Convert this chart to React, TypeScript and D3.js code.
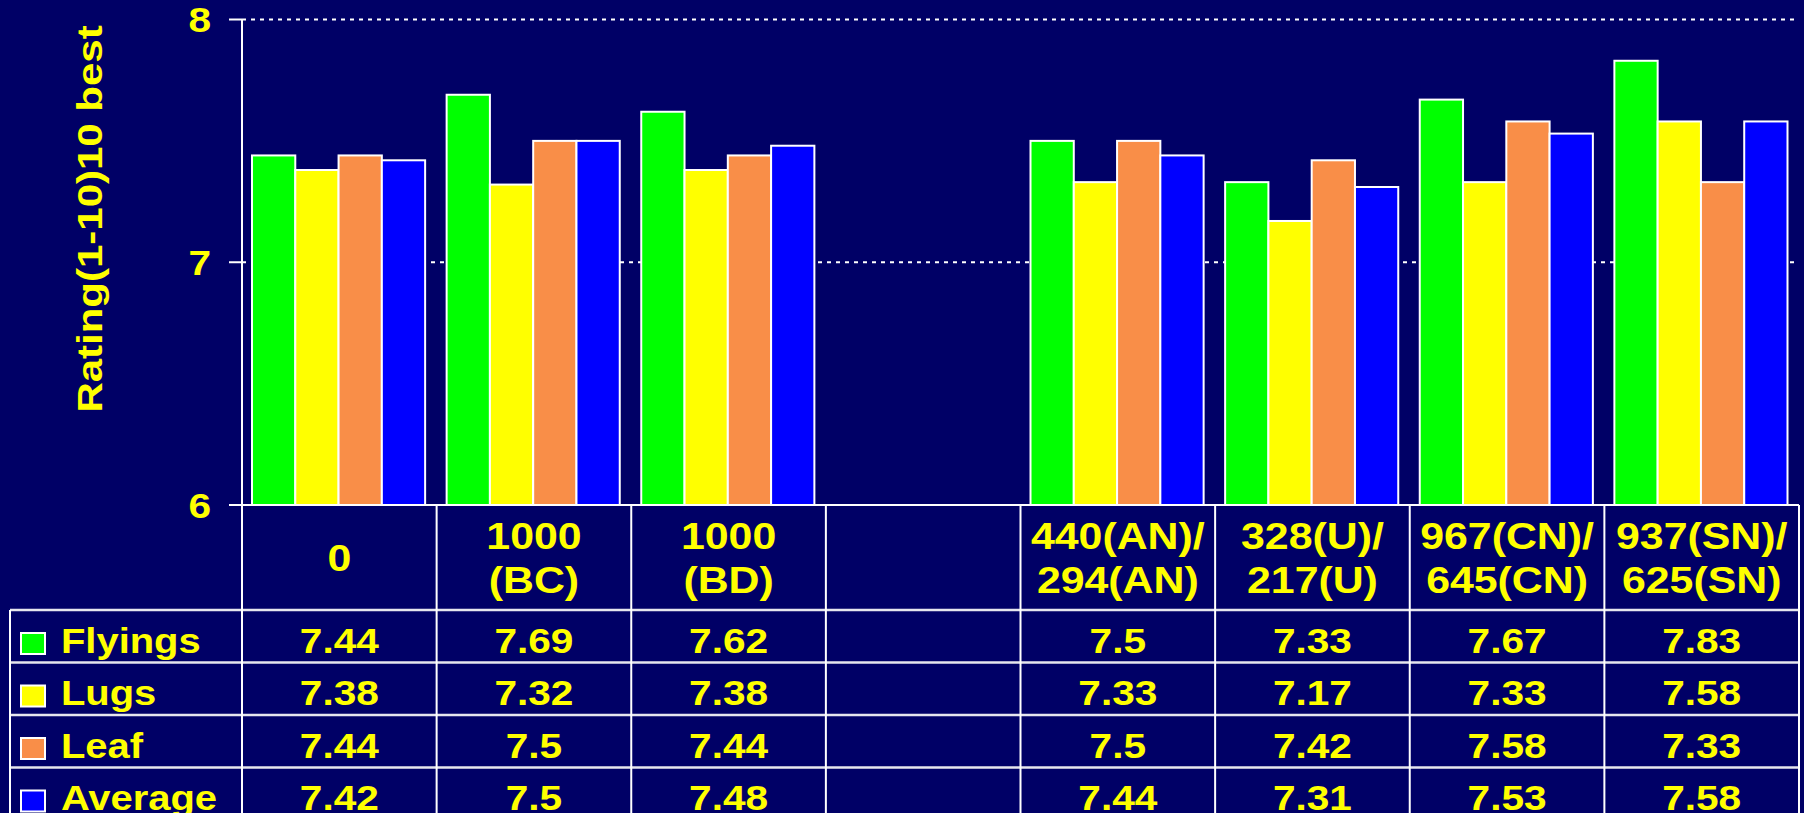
import React from "react";
import * as d3 from "d3";

// ---- data ----
const categories = [
  "0",
  "1000\n(BC)",
  "1000\n(BD)",
  "",
  "440(AN)/\n294(AN)",
  "328(U)/\n217(U)",
  "967(CN)/\n645(CN)",
  "937(SN)/\n625(SN)",
];
const seriesNames = ["Flyings", "Lugs", "Leaf", "Average"];
const flyings = [7.44, 7.69, 7.62, null, 7.5, 7.33, 7.67, 7.83];
const lugs = [7.38, 7.32, 7.38, null, 7.33, 7.17, 7.33, 7.58];
const leaf = [7.44, 7.5, 7.44, null, 7.5, 7.42, 7.58, 7.33];
const average = [7.42, 7.5, 7.48, null, 7.44, 7.31, 7.53, 7.58];
const yTicks = [6, 7, 8];
const yTitle = "Rating(1-10)10 best";
const seriesColors = ["#00FF00", "#FFFF00", "#F98E48", "#0000FF"];

const seriesValues = [flyings, lugs, leaf, average];

// ---- layout ----
const W = 1804;
const H = 813;
const BG = "#000066";
const TXT = "#FFFF00";
const FONT = "'Liberation Sans', Arial, Helvetica, sans-serif";
const SX = 1.16;

const plotLeft = 242;
const plotRight = 1799;
const plotTop = 19.5;
const plotBottom = 505;
const headerBottom = 610;
const rowH = 52.5;
const tableLeft = 10;
const tableBottom = 830;

export default function App() {
  const idx = d3.range(categories.length);
  const x = d3.scaleBand<number>().domain(idx).range([plotLeft, plotRight]).padding(0);
  const bw = x.bandwidth();
  const xi = d3.scaleBand<string>().domain(seriesNames).range([10, bw - 11.5]).padding(0);
  const y = d3.scaleLinear().domain([6, 8]).range([plotBottom, plotTop]);

  const textStyle = { fontFamily: FONT, fontWeight: 700 as const };

  const bars: React.ReactNode[] = [];
  seriesValues.forEach((vals, si) => {
    vals.forEach((v, ci) => {
      if (v == null) return;
      const bx = (x(ci) as number) + (xi(seriesNames[si]) as number);
      const by = y(v);
      bars.push(
        <rect
          key={`b-${si}-${ci}`}
          x={bx}
          y={by}
          width={xi.bandwidth()}
          height={y(6) - by}
          fill={seriesColors[si]}
          stroke="#FFFFFF"
          strokeWidth={2}
        />
      );
    });
  });

  const rowTops = seriesNames.map((_, i) => headerBottom + i * rowH);

  return (
    <svg
      width={W}
      height={H}
      style={{ position: "absolute", left: 0, top: 0, display: "block" }}
    >
      <rect x={0} y={0} width={W} height={H} fill={BG} />

      {/* gridlines */}
      {yTicks
        .filter((t) => t !== 6)
        .map((t) => (
          <line
            key={`g-${t}`}
            x1={plotLeft}
            x2={plotRight}
            y1={y(t)}
            y2={y(t)}
            stroke="#FFFFFF"
            strokeWidth={2}
            strokeDasharray="4,5"
          />
        ))}

      {bars}

      {/* y axis */}
      <line x1={plotLeft} x2={plotLeft} y1={plotTop} y2={plotBottom} stroke="#FFFFFF" strokeWidth={2} />
      {yTicks.map((t) => (
        <g key={`t-${t}`}>
          <line x1={plotLeft - 13} x2={plotLeft} y1={y(t)} y2={y(t)} stroke="#FFFFFF" strokeWidth={2} />
          <text
            transform={`translate(${plotLeft - 31},${y(t)}) scale(${SX},1)`}
            textAnchor="end"
            dy="0.36em"
            fontSize={35}
            fill={TXT}
            style={textStyle}
          >
            {t}
          </text>
        </g>
      ))}
      <text
        transform={`translate(102,219) rotate(-90) scale(1.2,1)`}
        textAnchor="middle"
        fontSize={35}
        fill={TXT}
        style={textStyle}
      >
        {yTitle}
      </text>

      {/* table: horizontal lines */}
      <line x1={plotLeft - 13} x2={plotRight} y1={plotBottom} y2={plotBottom} stroke="#FFFFFF" strokeWidth={2} />
      {rowTops.map((ry, i) => (
        <line
          key={`h-${i}`}
          x1={tableLeft}
          x2={plotRight}
          y1={ry}
          y2={ry}
          stroke="#E6E6EE"
          strokeWidth={2.5}
        />
      ))}
      {/* vertical lines */}
      <line x1={tableLeft} x2={tableLeft} y1={headerBottom} y2={tableBottom} stroke="#FFFFFF" strokeWidth={2} />
      {idx.map((ci) => (
        <line
          key={`v-${ci}`}
          x1={x(ci) as number}
          x2={x(ci) as number}
          y1={plotBottom}
          y2={tableBottom}
          stroke="#FFFFFF"
          strokeWidth={2}
        />
      ))}
      <line x1={plotRight} x2={plotRight} y1={plotBottom} y2={tableBottom} stroke="#FFFFFF" strokeWidth={2} />

      {/* header labels */}
      {categories.map((c, ci) => {
        const lines = c === "" ? [] : c.split("\n");
        const cx = (x(ci) as number) + bw / 2;
        const n = lines.length;
        return lines.map((ln, li) => (
          <text
            key={`c-${ci}-${li}`}
            transform={`translate(${cx},${558 + 12.5 + (li - (n - 1) / 2) * 44}) scale(1.19,1)`}
            textAnchor="middle"
            fontSize={36}
            fill={TXT}
            style={textStyle}
          >
            {ln}
          </text>
        ));
      })}

      {/* legend cells and values */}
      {seriesNames.map((s, si) => {
        const ry = rowTops[si];
        const base = ry + 42.5;
        return (
          <g key={`r-${si}`}>
            <rect
              x={21}
              y={ry + 23}
              width={24}
              height={21}
              fill={seriesColors[si]}
              stroke="#FFFFFF"
              strokeWidth={2}
            />
            <text
              transform={`translate(61,${base}) scale(1.14,1)`}
              fontSize={35}
              fill={TXT}
              style={textStyle}
            >
              {s}
            </text>
            {seriesValues[si].map((v, ci) =>
              v == null ? null : (
                <text
                  key={`v-${si}-${ci}`}
                  transform={`translate(${(x(ci) as number) + bw / 2},${base}) scale(${SX},1)`}
                  textAnchor="middle"
                  fontSize={35}
                  fill={TXT}
                  style={textStyle}
                >
                  {String(v)}
                </text>
              )
            )}
          </g>
        );
      })}
    </svg>
  );
}
